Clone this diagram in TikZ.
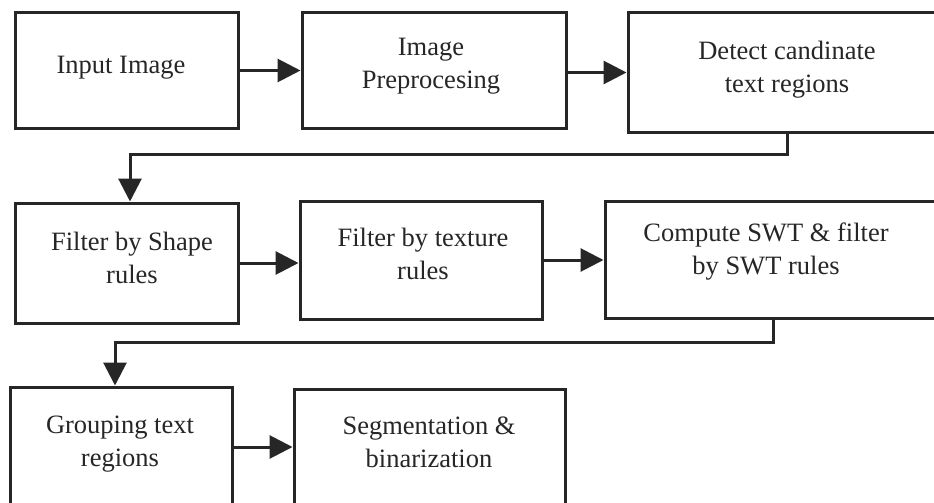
\documentclass[tikz,border=0pt]{standalone}
\usepackage{fontspec}
\setmainfont{Liberation Serif}
\usetikzlibrary{arrows.meta,calc}
\definecolor{ink}{HTML}{262626}
\tikzset{
  box/.style={draw=ink, line width=3pt, rectangle, inner sep=0pt, fill=white},
  lbl/.style={text=ink, align=center, inner sep=0pt, font=\fontsize{26.5}{33}\selectfont},
  arr/.style={draw=ink, line width=3pt, -{Triangle[length=23pt,width=23pt]}},
  conn/.style={draw=ink, line width=3pt}
}
\newcommand{\mybox}[5]{% name, x1, y1, x2, y2
  \node[box, minimum width={(#4-#2)*1pt}, minimum height={(#5-#3)*1pt}] (#1) at ({(#2+#4)/2},{(#3+#5)/2}) {};
}
\begin{document}
\begin{tikzpicture}[x=1pt,y=-1pt]
\useasboundingbox (0,0) rectangle (934,503);
\clip (0,0) rectangle (934,503);
\fill[white] (0,0) rectangle (934,503);
% boxes
\mybox{b1}{15}{13}{238}{128}
\mybox{b2}{302}{13}{566}{128}
\mybox{b3}{628}{13}{946}{132}
\mybox{b4}{15}{203}{238}{323}
\mybox{b5}{300}{201}{542}{319}
\mybox{b6}{605}{201}{940}{318}
\mybox{b7}{10}{387}{232}{507}
\mybox{b8}{294}{389}{565}{507}
% labels
\node[lbl] (t1) at (121,68) {Input Image};
\node[lbl] (t2) at (431,66.5) {Image\\Preprocesing};
\node[lbl] (t3) at (787,70) {Detect candinate\\text regions};
\node[lbl] (t4) at (132,257.5) {Filter by Shape\\rules};
\node[lbl] (t5) at (423,253.5) {Filter by texture\\rules};
\node[lbl] (t6) at (766,251.5) {Compute SWT \& filter\\by SWT rules};
\node[lbl] (t7) at (120,444) {Grouping text\\regions};
\node[lbl] (t8) at (429,442) {Segmentation \&\\binarization};
% horizontal arrows
\draw[arr] (b1.east) -- (b1.east -| b2.west);
\draw[arr] (b2.east |- b3.center) -- (b3.west);
\draw[arr] (b4.east) -- (b4.east -| b5.west);
\draw[arr] (b5.east) -- (b5.east -| b6.west);
\draw[arr] (b7.east |- 0,447) -- (b8.west |- 0,447);
% elbow connectors
\coordinate (k1) at (787,154);
\coordinate (k2) at (130,154);
\draw[arr] (b3.south -| k1) -- (k1) -- (k2) -- (k2 |- b4.north);
\coordinate (k3) at (773,342);
\coordinate (k4) at (115,342);
\draw[arr] (b6.south -| k3) -- (k3) -- (k4) -- (k4 |- b7.north);
\end{tikzpicture}
\end{document}
